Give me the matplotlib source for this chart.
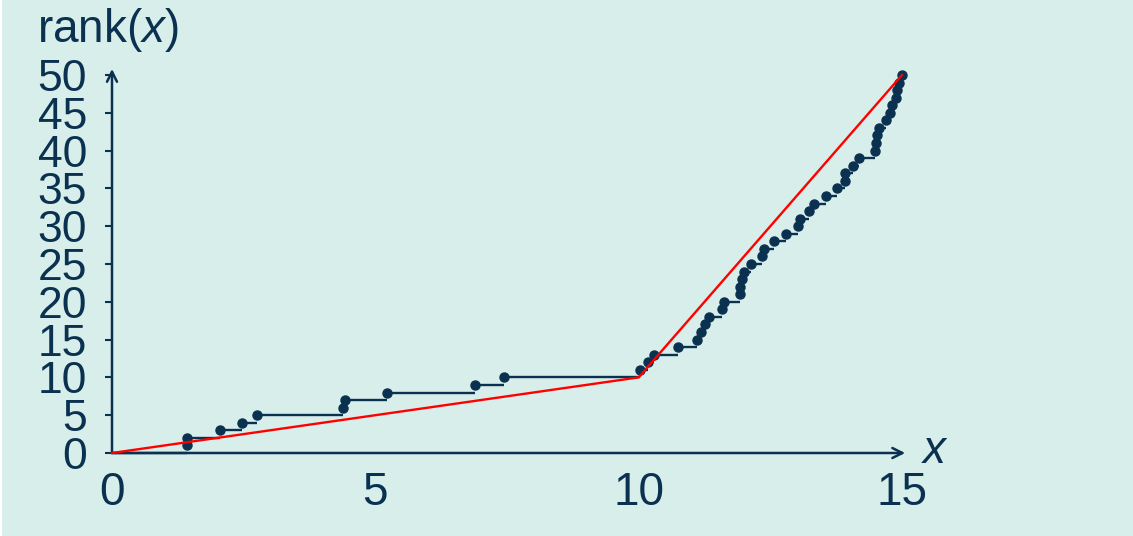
import matplotlib
matplotlib.use("Agg")
import matplotlib.pyplot as plt
from matplotlib.patches import Rectangle

# sorted sample values, rank k = position in this list (1-based)
sample = [1.43, 1.43, 2.06, 2.47, 2.75, 4.39, 4.42, 5.23, 6.89, 7.44,
          10.02, 10.18, 10.29, 10.75, 11.10, 11.18, 11.26, 11.34, 11.58, 11.62,
          11.92, 11.93, 11.96, 12.00, 12.13, 12.34, 12.38, 12.57, 12.79, 13.03,
          13.07, 13.23, 13.33, 13.56, 13.76, 13.92, 13.92, 14.07, 14.19, 14.49,
          14.51, 14.52, 14.56, 14.69, 14.78, 14.81, 14.88, 14.90, 14.95, 15.00]

# piecewise linear approximation of the rank function
knot_x = [0, 10, 15]
knot_y = [0, 10, 50]

xticks = [0, 5, 10, 15]
yticks = list(range(0, 51, 5))

bg = "#d8eeea"
ink = "#0b3150"

plt.rcParams["font.family"] = ["Liberation Sans", "DejaVu Sans"]
plt.rcParams["mathtext.fontset"] = "custom"
plt.rcParams["mathtext.rm"] = "Liberation Sans"
plt.rcParams["mathtext.it"] = "Liberation Sans:italic"

fig = plt.figure(figsize=(11.33, 5.36), dpi=100)
fig.patch.set_facecolor("white")
fig.patches.append(Rectangle((2 / 1133, 0), 1, 1, transform=fig.transFigure,
                             facecolor=bg, edgecolor="none", zorder=-10))

ax = fig.add_axes([112 / 1133, 83 / 536, 790 / 1133, 378 / 536])
ax.set_facecolor("none")
ax.set_xlim(0, 15)
ax.set_ylim(0, 50)
for s in ax.spines.values():
    s.set_visible(False)

# axes with open arrow heads
arrow = dict(arrowstyle="->", color=ink, lw=1.8, mutation_scale=18, shrinkA=0, shrinkB=0)
ax.annotate("", xy=(15.06, 0), xytext=(0, 0), arrowprops=arrow, annotation_clip=False)
ax.annotate("", xy=(0, 50.8), xytext=(0, 0), arrowprops=arrow, annotation_clip=False)

# empirical rank: horizontal steps and a dot at every sample
ranks = list(range(1, len(sample) + 1))
starts = [0] + sample[:-1]
ends = sample
ax.hlines([r - 1 for r in ranks], starts, ends, color=ink, lw=1.7, zorder=3, clip_on=False)
ax.plot(sample, ranks, "o", color=ink, ms=6.5, zorder=4, clip_on=False)

ax.plot(knot_x, knot_y, color="red", lw=1.7, zorder=5, clip_on=False)

ax.set_xticks(xticks)
ax.set_yticks(yticks)
ax.tick_params(axis="x", length=0, pad=13, labelsize=33, labelcolor=ink)
ax.tick_params(axis="y", length=5, width=1.5, color=ink, pad=13, labelsize=32, labelcolor=ink)

fig.text(37 / 1133, 1 - 42 / 536, r"rank($x$)", fontsize=33, color=ink, ha="left", va="baseline")
ax.text(15.62, 0.2, r"$x$", fontsize=33, color=ink, ha="center", va="center")

fig.savefig("out.png", dpi=100, facecolor=fig.get_facecolor())
